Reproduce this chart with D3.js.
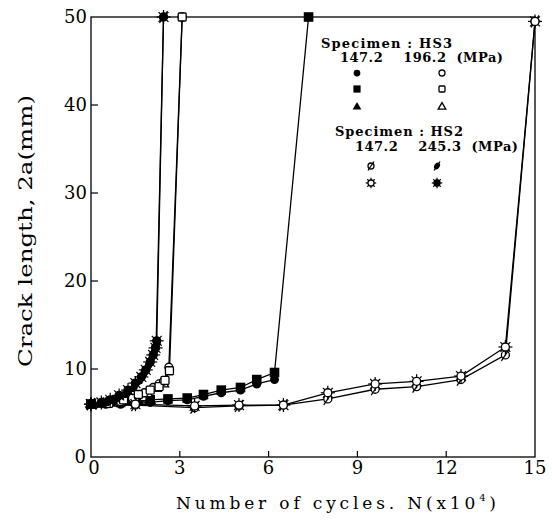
<!DOCTYPE html>
<html>
<head>
<meta charset="utf-8">
<script src="https://cdn.jsdelivr.net/npm/d3@7"></script>
<style>
  body { margin: 0; background: #fff; }
  text { fill: #000; white-space: pre; }
</style>
</head>
<body>
<svg id="chart" width="552" height="528"></svg>
<script>
// Axis ticks
const xTicks = [0, 3, 6, 9, 12, 15];
const yTicks = [0, 10, 20, 30, 40, 50];

// Specimen HS3, 147.2 MPa  [N (x10^4), 2a (mm)]
const hs3Low1 = [[0, 6.0], [0.5, 6.0], [1.0, 6.0], [1.5, 6.1], [2.0, 6.2], [2.6, 6.4], [3.25, 6.5], [3.8, 6.9], [4.4, 7.3], [5.05, 7.6], [5.6, 8.3], [6.2, 8.8]];
const hs3Low2 = [[0, 6.0], [0.5, 6.1], [1.0, 6.2], [1.5, 6.3], [2.0, 6.5], [2.6, 6.6], [3.25, 6.7], [3.8, 7.1], [4.4, 7.6], [5.05, 7.9], [5.6, 8.8], [6.2, 9.6], [7.35, 50]];
const hs3Low3 = [[0, 6.0], [0.4, 6.0], [0.8, 6.1], [1.2, 6.2], [1.6, 6.3], [2.0, 6.4]];

// Specimen HS3, 196.2 MPa
const hs3High1 = [[0, 6.0], [0.5, 6.1], [1.0, 6.3], [1.4, 6.7], [1.8, 7.3], [2.1, 7.9], [2.3, 8.3], [2.45, 8.6], [2.63, 10.2], [3.08, 50]];
const hs3High2 = [[0, 6.0], [0.6, 6.1], [1.1, 6.5], [1.6, 7.1], [2.0, 7.6], [2.3, 8.0], [2.5, 8.7], [2.65, 9.8], [3.08, 50]];
const hs3High3 = [[0, 6.0], [0.5, 6.0], [1.0, 6.2], [1.5, 6.6], [1.9, 7.2], [2.2, 7.8], [2.45, 8.3]];

// Specimen HS2, 147.2 MPa
const hs2Low1 = [[0, 6.0], [1.5, 5.9], [3.5, 5.6], [5.0, 5.8], [6.5, 5.9], [8.0, 6.6], [9.6, 7.7], [11.0, 8.0], [12.5, 8.8], [14.0, 11.6], [15.0, 49.5]];
const hs2Low2 = [[0, 6.0], [1.5, 6.0], [3.5, 5.8], [5.0, 5.9], [6.5, 5.9], [8.0, 7.3], [9.6, 8.3], [11.0, 8.6], [12.5, 9.2], [14.0, 12.5], [15.0, 49.5]];

// Specimen HS2, 245.3 MPa
const hs2High1 = [[0, 6.0], [0.3, 6.1], [0.6, 6.3], [0.9, 6.7], [1.2, 7.2], [1.45, 7.9], [1.65, 8.7], [1.8, 9.5], [1.95, 10.4], [2.05, 11.2], [2.15, 12.0], [2.2, 12.7], [2.45, 50]];
const hs2High2 = [[0, 6.0], [0.35, 6.2], [0.65, 6.5], [0.95, 7.0], [1.25, 7.6], [1.5, 8.4], [1.7, 9.1], [1.85, 9.9], [2.0, 10.8], [2.1, 11.6], [2.18, 12.4], [2.22, 13.2], [2.45, 50]];

const series = [
  { data: hs3Low1, marker: 'fc' },
  { data: hs3Low3, marker: 'ft' },
  { data: hs3Low2, marker: 'fs' },
  { data: hs3High3, marker: 'ot' },
  { data: hs3High1, marker: 'oc' },
  { data: hs3High2, marker: 'os' },
  { data: hs2Low1, marker: 'slash' },
  { data: hs2Low2, marker: 'sun' },
  { data: hs2High1, marker: 'fslash' },
  { data: hs2High2, marker: 'fsun' }
];

const svg = d3.select('#chart');
const x = d3.scaleLinear().domain([0, 15]).range([91, 535]);
const y = d3.scaleLinear().domain([0, 50]).range([457, 17]);

const serif = '"DejaVu Serif", "Liberation Serif", serif';

function drawMarker(g, type, k) {
  k = k || 1;
  const sw = 1.3;
  switch (type) {
    case 'fc':
      g.append('circle').attr('r', 4.5 * k).attr('fill', '#000');
      break;
    case 'oc':
      g.append('circle').attr('r', 4 * k).attr('fill', '#fff').attr('stroke', '#000').attr('stroke-width', sw);
      break;
    case 'fs':
      g.append('rect').attr('x', -4.8 * k).attr('y', -4.8 * k).attr('width', 9.6 * k).attr('height', 9.6 * k).attr('fill', '#000');
      break;
    case 'os':
      g.append('rect').attr('x', -4 * k).attr('y', -4 * k).attr('width', 8 * k).attr('height', 8 * k)
        .attr('rx', 1).attr('fill', '#fff').attr('stroke', '#000').attr('stroke-width', sw);
      break;
    case 'ft':
      g.append('path').attr('d', d3.symbol(d3.symbolTriangle, 60 * k * k)()).attr('fill', '#000');
      break;
    case 'ot':
      g.append('path').attr('d', d3.symbol(d3.symbolTriangle, 45 * k * k)())
        .attr('fill', '#fff').attr('stroke', '#000').attr('stroke-width', sw);
      break;
    case 'slash':
      g.append('circle').attr('r', 4 * k).attr('fill', '#fff').attr('stroke', '#000').attr('stroke-width', sw);
      g.append('line').attr('x1', -4 * k).attr('y1', 6 * k).attr('x2', 4 * k).attr('y2', -6 * k)
        .attr('stroke', '#000').attr('stroke-width', sw);
      break;
    case 'fslash':
      g.append('ellipse').attr('rx', 3.6 * k).attr('ry', 4.8 * k).attr('transform', 'rotate(35)').attr('fill', '#000');
      g.append('line').attr('x1', -4 * k).attr('y1', 6 * k).attr('x2', 4 * k).attr('y2', -6 * k)
        .attr('stroke', '#000').attr('stroke-width', sw);
      break;
    case 'sun':
    case 'fsun':
      d3.range(8).forEach(i => {
        const a = i * Math.PI / 4;
        g.append('line')
          .attr('x1', Math.cos(a) * 3.5 * k).attr('y1', Math.sin(a) * 3.5 * k)
          .attr('x2', Math.cos(a) * 7 * k).attr('y2', Math.sin(a) * 7 * k)
          .attr('stroke', '#000').attr('stroke-width', 1.2);
      });
      g.append('circle').attr('r', 4 * k)
        .attr('fill', type === 'fsun' ? '#000' : '#fff')
        .attr('stroke', '#000').attr('stroke-width', sw);
      break;
  }
}

// Frame
svg.append('rect')
  .attr('x', x(0)).attr('y', y(50))
  .attr('width', x(15) - x(0)).attr('height', y(0) - y(50))
  .attr('fill', 'none').attr('stroke', '#000').attr('stroke-width', 1.3);

// Inward ticks
svg.append('g').selectAll('line')
  .data(yTicks.filter(d => d > 0 && d < 50))
  .join('line')
  .attr('x1', x(0)).attr('x2', x(0) + 7)
  .attr('y1', d => y(d)).attr('y2', d => y(d))
  .attr('stroke', '#000').attr('stroke-width', 1.2);

svg.append('g').selectAll('line')
  .data(xTicks.filter(d => d > 0 && d < 15))
  .join('line')
  .attr('x1', d => x(d)).attr('x2', d => x(d))
  .attr('y1', y(0)).attr('y2', y(0) - 6)
  .attr('stroke', '#000').attr('stroke-width', 1.2);

// Tick labels
svg.append('g').selectAll('text')
  .data(yTicks)
  .join('text')
  .attr('x', d => d === 0 ? x(0) - 5 : x(0) - 4)
  .attr('y', d => y(d) + 6)
  .attr('text-anchor', 'end')
  .attr('font-family', serif).attr('font-size', 18)
  .text(d => d);

svg.append('g').selectAll('text')
  .data(xTicks)
  .join('text')
  .attr('x', d => x(d) + (d === 0 ? 3 : 0))
  .attr('y', y(0) + 17)
  .attr('text-anchor', 'middle')
  .attr('font-family', serif).attr('font-size', 18)
  .text(d => d);

// Axis titles
const xTitle = svg.append('text')
  .attr('x', 176).attr('y', 509)
  .attr('font-family', serif).attr('font-size', 17)
  .attr('textLength', 320).attr('lengthAdjust', 'spacing');
xTitle.append('tspan').text('Number of cycles. N(x10');
xTitle.append('tspan').attr('dy', -8).attr('font-size', 10).text('4');
xTitle.append('tspan').attr('dy', 8).text(')');

svg.append('text')
  .attr('transform', 'translate(32,367) rotate(-90)')
  .attr('font-family', serif).attr('font-size', 18)
  .attr('textLength', 272).attr('lengthAdjust', 'spacingAndGlyphs')
  .text('Crack length, 2a(mm)');

// Lines
const line = d3.line().x(d => x(d[0])).y(d => y(d[1]));
svg.append('g').selectAll('path')
  .data(series)
  .join('path')
  .attr('d', d => line(d.data))
  .attr('fill', 'none').attr('stroke', '#000').attr('stroke-width', 1.3);

// Markers
series.forEach(s => {
  s.data.forEach(p => {
    const g = svg.append('g').attr('transform', `translate(${x(p[0])},${y(p[1])})`);
    drawMarker(g, s.marker, 1);
  });
});

// Legend
const legendText = [
  { t: 'Specimen : HS3', x0: 321, y0: 48, w: 131 },
  { t: '147.2    196.2  (MPa)', x0: 340, y0: 62, w: 163 },
  { t: 'Specimen : HS2', x0: 335, y0: 136, w: 128 },
  { t: '147.2    245.3  (MPa)', x0: 355, y0: 151, w: 163 }
];
svg.append('g').selectAll('text')
  .data(legendText)
  .join('text')
  .attr('x', d => d.x0).attr('y', d => d.y0)
  .attr('font-family', serif).attr('font-size', 13).attr('font-weight', 'bold')
  .attr('textLength', d => d.w).attr('lengthAdjust', 'spacing')
  .text(d => d.t);

const legendMarks = [
  { m: 'fc', cx: 357, cy: 73 }, { m: 'oc', cx: 442, cy: 73 },
  { m: 'fs', cx: 357, cy: 89 }, { m: 'os', cx: 442, cy: 89 },
  { m: 'ft', cx: 357, cy: 107 }, { m: 'ot', cx: 442, cy: 107 },
  { m: 'slash', cx: 371, cy: 166 }, { m: 'fslash', cx: 437, cy: 166 },
  { m: 'sun', cx: 371, cy: 183 }, { m: 'fsun', cx: 437, cy: 183 }
];
legendMarks.forEach(d => {
  const g = svg.append('g').attr('transform', `translate(${d.cx},${d.cy})`);
  drawMarker(g, d.m, 0.75);
});
</script>
</body>
</html>
